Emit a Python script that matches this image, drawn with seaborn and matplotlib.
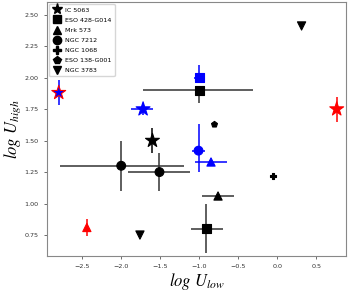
import numpy as np
import pandas as pd
import seaborn as sns
import matplotlib.pyplot as plt

plt.rcParams['mathtext.fontset'] = 'stix'

# one row per measurement
names   = ['IC 5063', 'IC 5063', 'IC 5063', 'IC 5063',
           'ESO 428-G014', 'ESO 428-G014', 'ESO 428-G014',
           'Mrk 573', 'Mrk 573', 'Mrk 573',
           'NGC 7212', 'NGC 7212', 'NGC 7212',
           'NGC 1068', 'ESO 138-G001',
           'NGC 3783', 'NGC 3783']
u_low   = [-2.80, -1.72, -1.60, 0.76,
           -1.00, -1.00, -0.91,
           -0.85, -0.76, -2.44,
           -1.01, -2.00, -1.51,
           -0.05, -0.81,
           0.31, -1.76]
u_high  = [1.88, 1.75, 1.50, 1.75,
           2.00, 1.90, 0.80,
           1.33, 1.06, 0.81,
           1.42, 1.30, 1.25,
           1.22, 1.63,
           2.41, 0.75]
xerr_lo = [0.0, 0.15, 0.05, 0.0,
           0.07, 0.72, 0.19,
           0.20, 0.20, 0.0,
           0.08, 0.78, 0.40,
           0.0, 0.0,
           0.0, 0.0]
xerr_hi = [0.0, 0.13, 0.05, 0.0,
           0.07, 0.69, 0.21,
           0.20, 0.20, 0.0,
           0.08, 0.80, 0.39,
           0.0, 0.0,
           0.0, 0.0]
yerr_lo = [0.10, 0.05, 0.10, 0.10,
           0.03, 0.10, 0.19,
           0.0, 0.0, 0.07,
           0.17, 0.20, 0.15,
           0.0, 0.0,
           0.0, 0.0]
yerr_hi = [0.10, 0.05, 0.10, 0.10,
           0.10, 0.03, 0.20,
           0.0, 0.0, 0.07,
           0.21, 0.20, 0.15,
           0.0, 0.0,
           0.0, 0.0]
colors  = ['blue', 'blue', 'black', 'red',
           'blue', 'black', 'black',
           'blue', 'black', 'red',
           'blue', 'black', 'black',
           'black', 'black',
           'black', 'black']
edges   = ['red', 'blue', 'black', 'red',
           'blue', 'black', 'black',
           'blue', 'black', 'red',
           'blue', 'black', 'black',
           'black', 'black',
           'black', 'black']
ecolors = ['blue', 'blue', 'black', 'red',
           'blue', '#333333', '#333333',
           'blue', '#333333', 'red',
           'blue', '#333333', '#333333',
           'black', 'black',
           'black', 'black']

galaxies = ['IC 5063', 'ESO 428-G014', 'Mrk 573', 'NGC 7212',
            'NGC 1068', 'ESO 138-G001', 'NGC 3783']
markers = {'IC 5063': '*', 'ESO 428-G014': 's', 'Mrk 573': '^', 'NGC 7212': 'o',
           'NGC 1068': 'P', 'ESO 138-G001': 'p', 'NGC 3783': 'v'}
sizes = {'IC 5063': 110, 'ESO 428-G014': 40, 'Mrk 573': 35, 'NGC 7212': 40,
         'NGC 1068': 25, 'ESO 138-G001': 20, 'NGC 3783': 35}

df = pd.DataFrame({'name': names, 'x': u_low, 'y': u_high,
                   'xl': xerr_lo, 'xh': xerr_hi, 'yl': yerr_lo, 'yh': yerr_hi,
                   'c': colors, 'ec': edges, 'erc': ecolors})

fig = plt.figure(figsize=(3.51, 2.91), dpi=100)
ax = fig.add_axes([0.134, 0.12, 0.852, 0.873])

for _, r in df.iterrows():
    if r.xl + r.xh + r.yl + r.yh > 0:
        ax.errorbar(r.x, r.y, xerr=[[r.xl], [r.xh]], yerr=[[r.yl], [r.yh]],
                    fmt='none', ecolor=r.erc, elinewidth=1.1, zorder=1)

for g in galaxies:
    sub = df[df.name == g]
    sns.scatterplot(data=sub, x='x', y='y', marker=markers[g], s=sizes[g],
                    c=sub.c.tolist(), edgecolor=sub.ec.tolist(), linewidth=0.8,
                    ax=ax, zorder=3)

# legend proxies in black
handles = [plt.Line2D([], [], ls='none', marker=markers[g], color='black',
                      markersize=8 if g == 'IC 5063' else 6) for g in galaxies]
ax.legend(handles, galaxies, loc='upper left', fontsize=4.6, handlelength=1.4,
          labelspacing=0.72, borderpad=0.5, handletextpad=0.6, borderaxespad=0.3)

ax.set_xlim(-2.95, 0.88)
ax.set_ylim(0.583, 2.60)
ax.set_xticks([-2.5, -2.0, -1.5, -1.0, -0.5, 0.0, 0.5])
ax.set_yticks([0.75, 1.00, 1.25, 1.50, 1.75, 2.00, 2.25, 2.50])
ax.tick_params(labelsize=4.6, length=2.5, width=0.6, color='#555555', labelcolor='#333333')
for s in ax.spines.values():
    s.set_color('#888888')
    s.set_linewidth(0.8)
ax.set_xlabel(r'$log\ U_{low}$', fontsize=12, labelpad=1)
ax.set_ylabel(r'$log\ U_{high}$', fontsize=12, labelpad=1)

fig.savefig('out.png', dpi=100)
